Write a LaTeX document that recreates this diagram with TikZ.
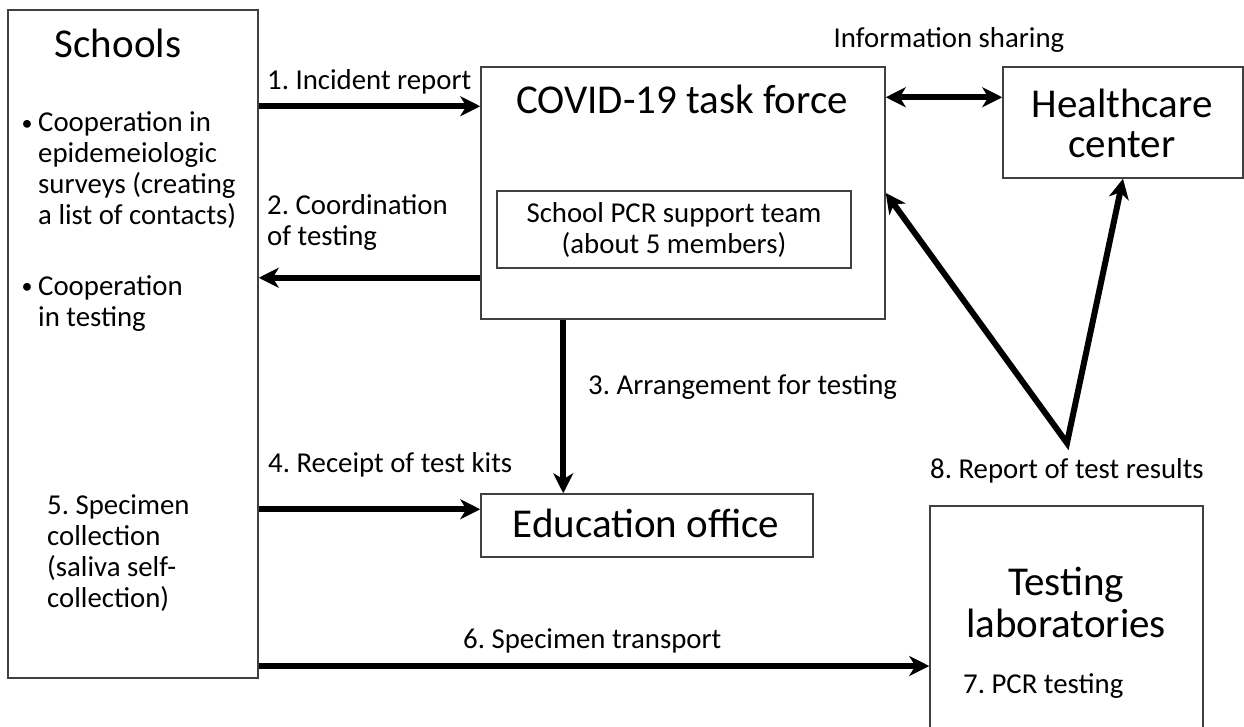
\documentclass[tikz,border=0pt]{standalone}
\usepackage{fontspec}
\setmainfont{Carlito}
\usetikzlibrary{arrows.meta}
\frenchspacing

\begin{document}
\begin{tikzpicture}
                [x=1pt, y=-1pt,
                box/.style={draw=black!75, line width=1.5pt, inner sep=0pt},
                big/.style={font=\fontsize{41}{41}\selectfont, inner sep=0pt, align=center},
                small/.style={font=\fontsize{28.8}{31}\selectfont, inner sep=0pt, align=left},
                dot/.style={font=\fontsize{22}{22}\selectfont, inner sep=0pt, anchor=base},
                >={Stealth[length=20pt, width=20pt, inset=6pt]},
                asty/.style={->, line width=6pt, line join=miter}]
                \useasboundingbox (0,0) rectangle (1244,726);
                % schools (multi-line texts sit on their last baseline)
                \node[box, minimum width=250, minimum height=668] (schools) at (133,344) {};
                \node[big, anchor=base] (schools-t) at (118,57) {Schools};
                \node[dot] (dot1) at (27,130) {•};
                \node[small, anchor=base west] (coop1) at (38,224) {Cooperation in\\epidemeiologic\\surveys (creating\\a list of contacts)};
                \node[dot] (dot2) at (27,293) {•};
                \node[small, anchor=base west] (coop2) at (38,326) {Cooperation\\in testing};
                \node[small, anchor=base west] (spec) at (47,607) {5. Specimen\\collection\\(saliva self-\\collection)};
                % task force
                \node[box, minimum width=404, minimum height=252] (task) at (683,193) {};
                \node[big, anchor=base] (task-t) at (682,113) {COVID-19 task force};
                \node[box, minimum width=354, minimum height=77] (team) at (674,229.5) {};
                \node[small, anchor=base, align=center] (team-t) at (674,253) {School PCR support team\\(about 5 members)};
                % healthcare center
                \node[box, minimum width=240, minimum height=111] (health) at (1123,122.5) {};
                \node[big, anchor=base, font=\fontsize{41}{40}\selectfont] (health-t) at (1122,157) {Healthcare\\center};
                % education office
                \node[box, minimum width=332, minimum height=63] (edu) at (647,525.5) {};
                \node[big, anchor=base] (edu-t) at (646,537) {Education office};
                % testing laboratories
                \node[box, minimum width=273, minimum height=234] (lab) at (1066.5,623) {};
                \node[big, anchor=base, font=\fontsize{41}{42}\selectfont] (lab-t) at (1066,637) {Testing\\laboratories};
                \node[small, anchor=base west] (pcr) at (963,693) {7. PCR testing};
                % flows
                \draw[asty] ([yshift=-40pt]task.north west -| schools.east) -- ([yshift=-40pt]task.north west);
                \node[small, anchor=base west] (lab1) at (267,89) {1. Incident report};
                \draw[asty] ([yshift=42pt]task.south west) -- ([yshift=42pt]task.south west -| schools.east);
                \node[small, anchor=base west] (lab2) at (267,245) {2. Coordination\\of testing};
                \draw[asty] ([xshift=83pt]task.south west) -- ([xshift=83pt]task.south west |- edu.north);
                \node[small, anchor=base west] (lab3) at (588,394) {3. Arrangement for testing};
                \draw[asty] ([yshift=-16pt]edu.north west -| schools.east) -- ([yshift=-16pt]edu.north west);
                \node[small, anchor=base west] (lab4) at (268,472) {4. Receipt of test kits};
                \draw[asty] ([yshift=-43pt]lab.west -| schools.east) -- ([yshift=-43pt]lab.west);
                \node[small, anchor=base west] (lab6) at (463,648) {6. Specimen transport};
                % information sharing
                \draw[asty, <->] ([yshift=-31pt]task.north east) -- ([yshift=-31pt]health.north west);
                \node[small, anchor=base] (info) at (949,47) {Information sharing};
                % report of test results
                \coordinate (rep) at (1067,443);
                \draw[asty, <->] (task.east) -- (rep) -- (health.south);
                \node[small, anchor=base west] (lab8) at (930,478) {8. Report of test results};
\end{tikzpicture}
\end{document}
